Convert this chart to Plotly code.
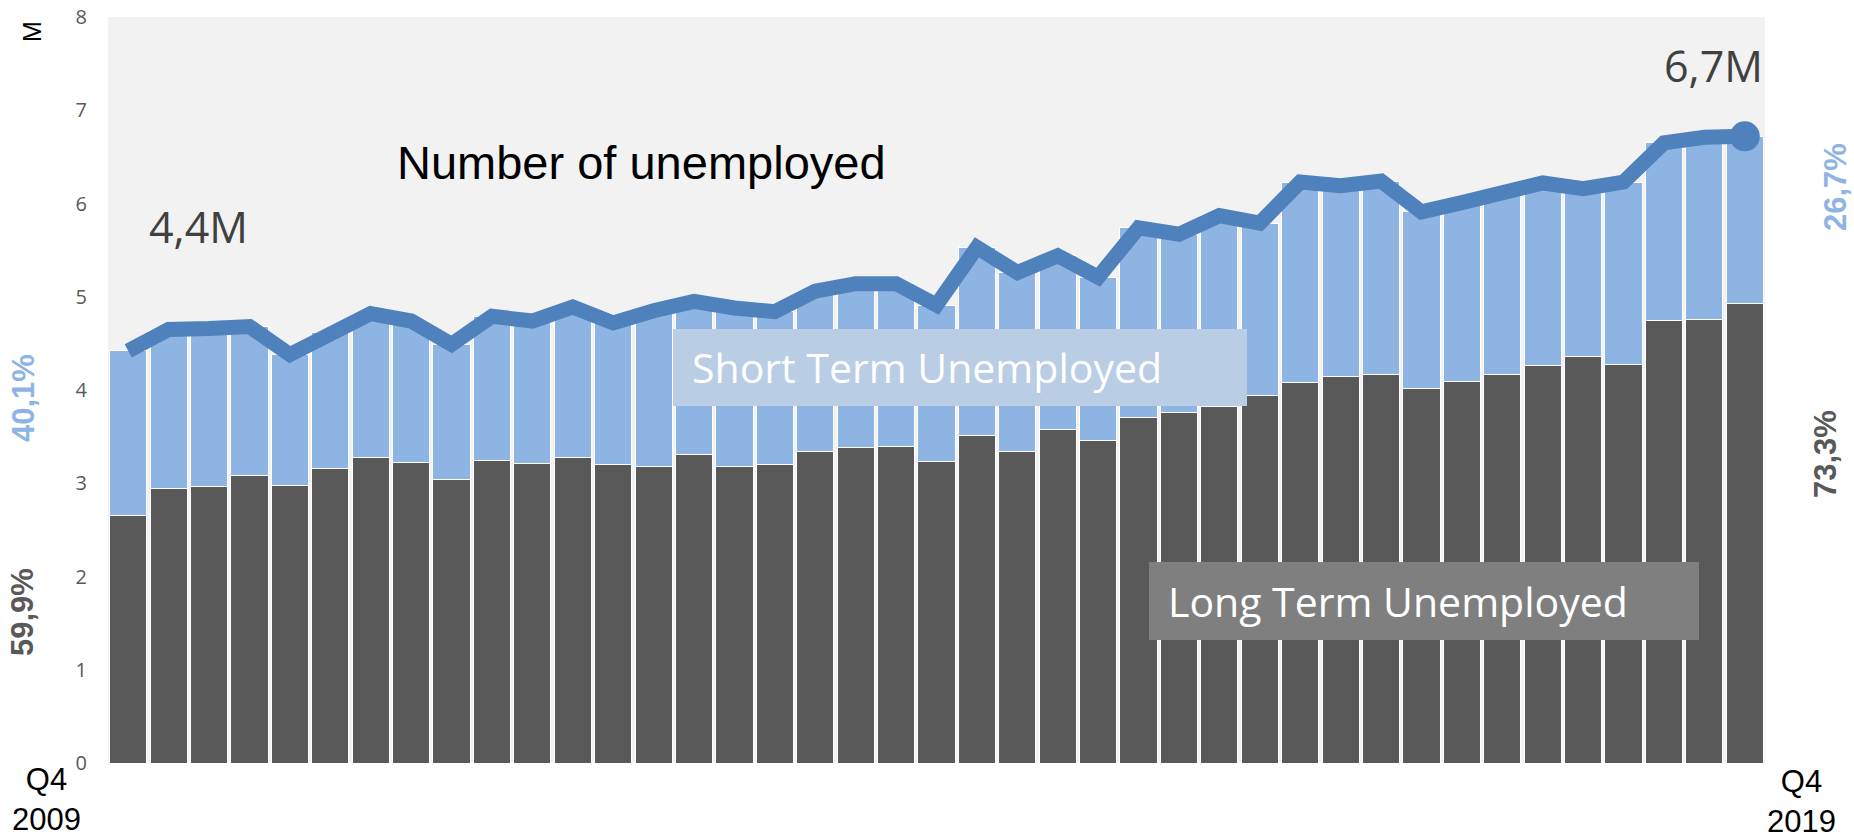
import plotly.graph_objects as go

quarters = [
    "Q4 2009",
    "Q1 2010", "Q2 2010", "Q3 2010", "Q4 2010",
    "Q1 2011", "Q2 2011", "Q3 2011", "Q4 2011",
    "Q1 2012", "Q2 2012", "Q3 2012", "Q4 2012",
    "Q1 2013", "Q2 2013", "Q3 2013", "Q4 2013",
    "Q1 2014", "Q2 2014", "Q3 2014", "Q4 2014",
    "Q1 2015", "Q2 2015", "Q3 2015", "Q4 2015",
    "Q1 2016", "Q2 2016", "Q3 2016", "Q4 2016",
    "Q1 2017", "Q2 2017", "Q3 2017", "Q4 2017",
    "Q1 2018", "Q2 2018", "Q3 2018", "Q4 2018",
    "Q1 2019", "Q2 2019", "Q3 2019", "Q4 2019",
]

long_term = [2.65, 2.94, 2.96, 3.08, 2.98, 3.16, 3.28, 3.22, 3.04, 3.24,
             3.21, 3.28, 3.20, 3.18, 3.31, 3.18, 3.20, 3.34, 3.38, 3.39,
             3.23, 3.51, 3.34, 3.58, 3.46, 3.71, 3.76, 3.82, 3.94, 4.08,
             4.14, 4.17, 4.02, 4.09, 4.17, 4.26, 4.36, 4.27, 4.75, 4.76, 4.93]

short_term = [1.77, 1.71, 1.70, 1.60, 1.40, 1.46, 1.54, 1.52, 1.45, 1.55,
              1.53, 1.61, 1.52, 1.67, 1.64, 1.70, 1.64, 1.72, 1.76, 1.75,
              1.68, 2.02, 1.92, 1.86, 1.75, 2.03, 1.91, 2.05, 1.85, 2.15,
              2.05, 2.07, 1.89, 1.92, 1.94, 1.96, 1.80, 1.96, 1.90, 1.95, 1.79]

total = [4.42, 4.65, 4.66, 4.68, 4.38, 4.62, 4.82, 4.74, 4.49, 4.79,
         4.74, 4.89, 4.72, 4.85, 4.95, 4.88, 4.84, 5.06, 5.14, 5.14,
         4.91, 5.53, 5.26, 5.44, 5.21, 5.74, 5.67, 5.87, 5.79, 6.23,
         6.19, 6.24, 5.91, 6.01, 6.11, 6.22, 6.16, 6.23, 6.65, 6.71, 6.72]

y_ticks = [0, 1, 2, 3, 4, 5, 6, 7, 8]

DARK = "#595959"
LIGHT = "#8EB4E3"
LINE = "#4F81BD"

fig = go.Figure()
fig.add_trace(go.Bar(x=quarters, y=long_term, name="Long Term Unemployed",
                     marker=dict(color=DARK, line=dict(color="white", width=1))))
fig.add_trace(go.Bar(x=quarters, y=short_term, name="Short Term Unemployed",
                     marker=dict(color=LIGHT, line=dict(color="white", width=1))))
fig.add_trace(go.Scatter(x=quarters, y=total, mode="lines", name="Number of unemployed",
                         line=dict(color=LINE, width=15)))
fig.add_trace(go.Scatter(x=[quarters[-1]], y=[total[-1]], mode="markers",
                         marker=dict(color=LINE, size=30), showlegend=False))

X0, X1, YB, YT = 108, 1765, 763, 17


def px(x):
    return (x - X0) / (X1 - X0)


def py(y):
    return (YB - y) / (YB - YT)


ann = []


def add(text, x, y, size, color, family="Arial", angle=0, xanchor="center", bold=False):
    if bold:
        text = "<b>" + text + "</b>"
    ann.append(dict(text=text, x=px(x), y=py(y), xref="paper", yref="paper",
                    showarrow=False, textangle=angle, xanchor=xanchor, yanchor="middle",
                    font=dict(family=family, size=size, color=color)))


add("M", 32, 32, 25, "black", angle=-90)
add("4,4M", 198, 227, 43, "#404040", family="Open Sans")
add("6,7M", 1713, 65, 43, "#404040", family="Open Sans")
add("Number of unemployed", 641, 162, 47, "black")
add("40,1%", 23, 398, 31, LIGHT, angle=-90, bold=True)
add("59,9%", 22, 612, 31, DARK, angle=-90, bold=True)
add("26,7%", 1835, 187, 31, LIGHT, angle=-90, bold=True)
add("73,3%", 1825, 454, 31, DARK, angle=-90, bold=True)
add("Q4<br>2009", 47, 799, 31, "black")
add("Q4<br>2019", 1801, 801, 31, "black")
add("Short Term Unemployed", 690, 367, 41, "white", family="Open Sans", xanchor="left")
add("Long Term Unemployed", 1166, 601, 41, "white", family="Open Sans", xanchor="left")

shapes = [
    dict(type="rect", xref="paper", yref="paper", x0=px(673), x1=px(1247), y0=py(406), y1=py(329),
         fillcolor="#B9CDE5", line=dict(width=0), layer="above"),
    dict(type="rect", xref="paper", yref="paper", x0=px(1149), x1=px(1699), y0=py(640), y1=py(562),
         fillcolor="#7F7F7F", line=dict(width=0), layer="above"),
]

fig.update_layout(
    width=1854, height=838,
    barmode="stack", bargap=0.08,
    showlegend=False,
    plot_bgcolor="#F2F2F2", paper_bgcolor="white",
    margin=dict(l=X0, r=1854 - X1, t=YT, b=838 - YB, autoexpand=False),
    annotations=ann, shapes=shapes,
    xaxis=dict(showticklabels=False, showgrid=False, zeroline=False, showline=False,
               range=[-0.5, len(quarters) - 0.5], fixedrange=True),
    yaxis=dict(range=[0, 8], tickvals=y_ticks, showgrid=False, zeroline=False, showline=False,
               ticks="", ticklabelstandoff=20,
               tickfont=dict(family="Open Sans", size=20, color="#595959")),
)

fig.write_html("out.html",
               config={"displayModeBar": False},
               post_script="document.body.style.margin='0';document.body.style.padding='0';"
                           "document.body.style.overflow='hidden';")
